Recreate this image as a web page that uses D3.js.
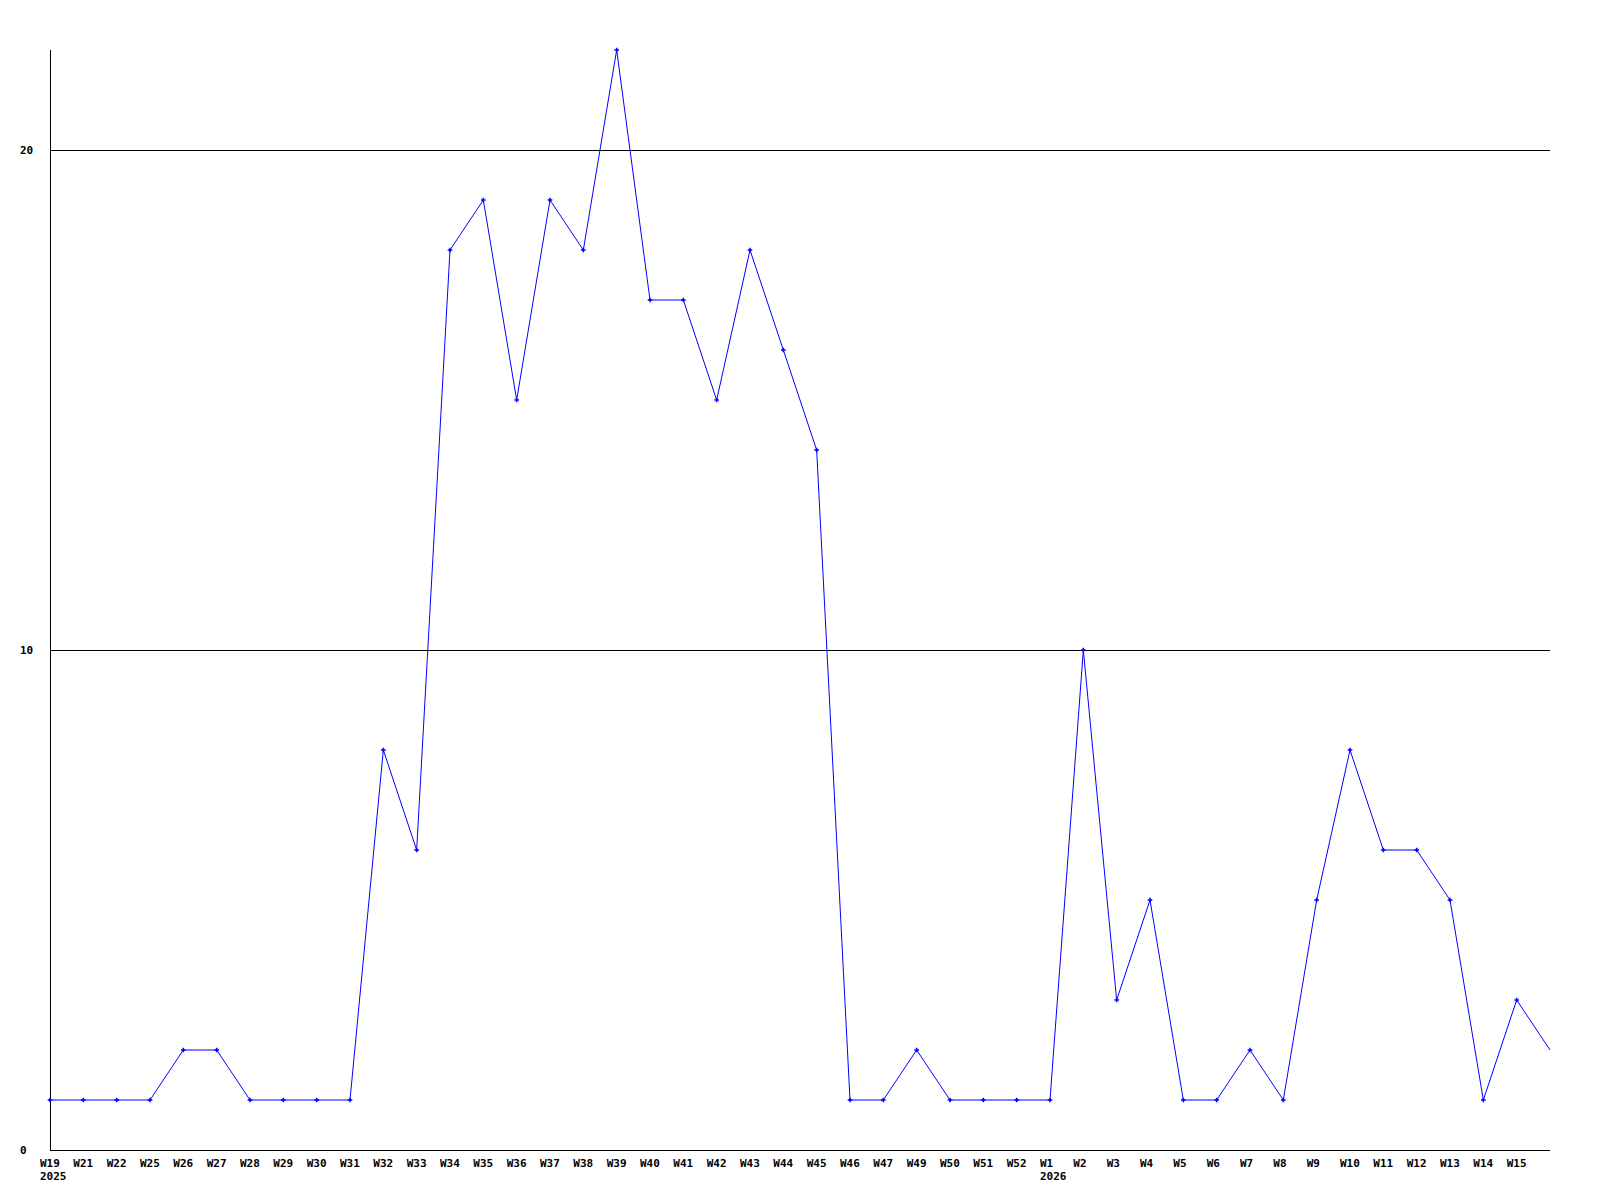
<!DOCTYPE html>
<html>
<head>
<meta charset="utf-8">
<script src="https://cdn.jsdelivr.net/npm/d3@7"></script>
<style>
  body { margin: 0; background: #fff; }
  text { font-family: "DejaVu Sans Mono", monospace; font-weight: bold; font-size: 11px; }
</style>
</head>
<body>
<svg id="chart"></svg>
<script>
// weekly counts, one entry per week label (last one has no label)
const weeks = ["W19","W21","W22","W25","W26","W27","W28","W29","W30","W31","W32","W33","W34","W35","W36","W37","W38","W39","W40","W41","W42","W43","W44","W45","W46","W47","W49","W50","W51","W52","W1","W2","W3","W4","W5","W6","W7","W8","W9","W10","W11","W12","W13","W14","W15",""];
const counts = [1,1,1,1,2,2,1,1,1,1,8,6,18,19,15,19,18,22,17,17,15,18,16,14,1,1,2,1,1,1,1,10,3,5,1,1,2,1,5,8,6,6,5,1,3,2];
const yearLabels = [{ index: 0, text: "2025" }, { index: 30, text: "2026" }];
const yTicks = [0, 10, 20];

const W = 1600, H = 1200;
const margin = { top: 50, right: 50, bottom: 50, left: 50 };

const svg = d3.select("#chart").attr("width", W).attr("height", H);

const x = d3.scaleLinear().domain([0, weeks.length - 1]).range([margin.left, W - margin.right]);
const y = d3.scaleLinear().domain([0, d3.max(counts)]).range([H - margin.bottom, margin.top]);

// gridlines
svg.append("g")
  .selectAll("line")
  .data(yTicks.filter(d => d > 0))
  .join("line")
    .attr("x1", margin.left).attr("x2", W - margin.right)
    .attr("y1", d => Math.round(y(d)) + 0.5).attr("y2", d => Math.round(y(d)) + 0.5)
    .attr("stroke", "#000").attr("shape-rendering", "crispEdges");

// axes lines
svg.append("line")
  .attr("x1", margin.left + 0.5).attr("x2", margin.left + 0.5)
  .attr("y1", margin.top).attr("y2", H - margin.bottom + 1)
  .attr("stroke", "#000").attr("shape-rendering", "crispEdges");
svg.append("line")
  .attr("x1", margin.left).attr("x2", W - margin.right)
  .attr("y1", H - margin.bottom + 0.5).attr("y2", H - margin.bottom + 0.5)
  .attr("stroke", "#000").attr("shape-rendering", "crispEdges");

// y labels
svg.append("g")
  .selectAll("text")
  .data(yTicks)
  .join("text")
    .attr("x", 20)
    .attr("y", d => y(d) + 4)
    .text(d => d);

// x labels
svg.append("g")
  .selectAll("text")
  .data(weeks)
  .join("text")
    .attr("x", (d, i) => x(i) - 10)
    .attr("y", H - margin.bottom + 17)
    .text(d => d);

svg.append("g")
  .selectAll("text")
  .data(yearLabels)
  .join("text")
    .attr("x", d => x(d.index) - 10)
    .attr("y", H - margin.bottom + 30)
    .text(d => d.text);

// line
const line = d3.line().x((d, i) => x(i)).y(d => y(d));
svg.append("path")
  .datum(counts)
  .attr("d", line)
  .attr("fill", "none")
  .attr("stroke", "#0000ff")
  .attr("stroke-width", 1);

// markers (not on the unlabelled last point)
svg.append("g")
  .selectAll("path")
  .data(counts.slice(0, weeks.length - 1))
  .join("path")
    .attr("transform", (d, i) => `translate(${x(i)},${y(d)})`)
    .attr("d", d3.symbol(d3.symbolCross, 12))
    .attr("fill", "#0000ff");
</script>
</body>
</html>
